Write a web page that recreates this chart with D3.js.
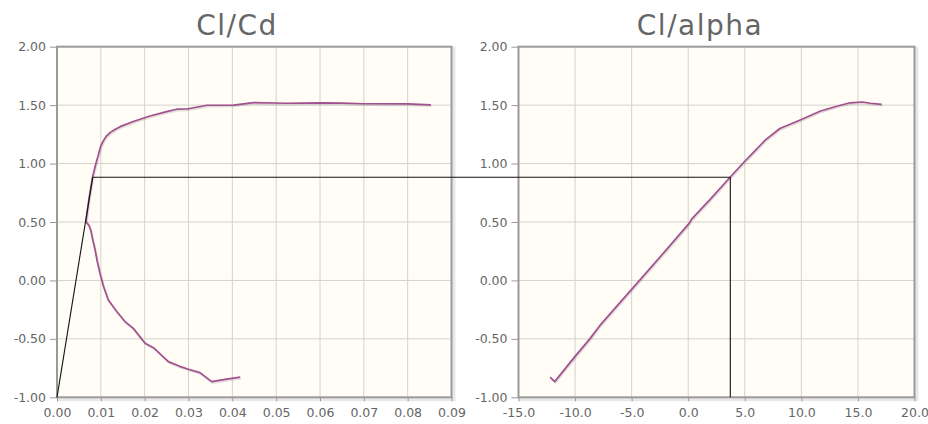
<!DOCTYPE html>
<html>
<head>
<meta charset="utf-8">
<script src="https://cdn.jsdelivr.net/npm/d3@7"></script>
<style>
  body { margin: 0; background: #fff; }
  svg { display: block; }
  .tick text { fill: #666; font-family: "DejaVu Sans", Verdana, sans-serif; font-size: 12.5px; }
  .tick line { stroke: #999; }
  .title { fill: #666; font-family: "DejaVu Sans", sans-serif; font-size: 28px; letter-spacing: 1.5px; }
</style>
</head>
<body>
<svg id="chart" width="928" height="424"></svg>
<script>
// Cl/Cd polar (drag coefficient, lift coefficient)
const polarCd = [0.0418, 0.0387, 0.0353, 0.0326, 0.0300, 0.0280, 0.0254, 0.0220, 0.0201, 0.0174,
  0.0155, 0.0135, 0.0117, 0.0106, 0.0098, 0.0092, 0.0087, 0.0082, 0.0077, 0.0073, 0.0066,
  0.0073, 0.0081, 0.0088, 0.0094, 0.0099, 0.0105, 0.0112, 0.0121, 0.0132, 0.0144, 0.0174, 0.0212,
  0.0250, 0.0273, 0.0296, 0.0342, 0.0403, 0.0448, 0.0524, 0.0600, 0.0650, 0.0700, 0.0800, 0.0853];
const polarCl = [-0.828, -0.845, -0.866, -0.789, -0.760, -0.735, -0.695, -0.575, -0.537, -0.410,
  -0.352, -0.260, -0.167, -0.050, 0.060, 0.160, 0.260, 0.340, 0.430, 0.470, 0.503,
  0.700, 0.883, 0.990, 1.070, 1.140, 1.190, 1.232, 1.265, 1.292, 1.316, 1.360, 1.407,
  1.445, 1.465, 1.467, 1.499, 1.500, 1.521, 1.516, 1.520, 1.518, 1.512, 1.510, 1.503];

// Cl/alpha (angle of attack in degrees, lift coefficient)
const alphaDeg = [-12.2, -11.8, -10.0, -8.7, -7.8, -5.9, -4.3, -2.0, 0.1, 0.3, 2.0, 3.7,
  5.0, 6.0, 6.8, 8.1, 9.9, 11.7, 13.2, 14.3, 15.4, 16.1, 17.1];
const alphaCl = [-0.828, -0.866, -0.650, -0.500, -0.385, -0.175, 0.000, 0.255, 0.490, 0.525, 0.700, 0.883,
  1.020, 1.120, 1.200, 1.300, 1.373, 1.450, 1.493, 1.520, 1.527, 1.516, 1.507];

// tangent construction: start point on the polar and the tangent point
const tangentStart = [0.0, -1.0];      // [Cd, Cl]
const tangentPoint = [0.00815, 0.883, 3.72]; // [Cd, Cl, alpha]

const cdTicks = [0, 0.01, 0.02, 0.03, 0.04, 0.05, 0.06, 0.07, 0.08, 0.09];
const alphaTicks = [-15, -10, -5, 0, 5, 10, 15, 20];
const clTicks = [-1, -0.5, 0, 0.5, 1, 1.5, 2];

const svg = d3.select('#chart');

const y = d3.scaleLinear().domain([-1, 2]).range([397.3, 46.7]);
const xLeft = d3.scaleLinear().domain([0, 0.09]).range([57, 451.5]);
const xRight = d3.scaleLinear().domain([-15, 20]).range([518.5, 914.5]);

// plain hyphen for negatives, like the original
const fmt = n => d => d.toFixed(n);

function drawPlot(x, xTicks, xFormat, xs, ys, title, titleX) {
	const [x0, x1] = x.range();
	const [y1, y0] = y.range();
	const g = svg.append('g');

	// shadow + background
	g.append('rect')
		.attr('x', x0 + 2).attr('y', y0 + 2)
		.attr('width', x1 - x0).attr('height', y1 - y0)
		.attr('fill', 'none')
		.attr('stroke', 'rgba(0,0,0,0.09)')
		.attr('stroke-width', 4);
	g.append('rect')
		.attr('x', x0).attr('y', y0)
		.attr('width', x1 - x0).attr('height', y1 - y0)
		.attr('fill', '#fffdf6');

	// grid
	g.selectAll('line.vgrid')
		.data(xTicks.slice(1, -1))
		.enter().append('line')
		.attr('class', 'vgrid')
		.attr('x1', d => x(d)).attr('x2', d => x(d))
		.attr('y1', y0).attr('y2', y1)
		.attr('stroke', '#d4d2cc').attr('stroke-width', 1);
	g.selectAll('line.hgrid')
		.data(clTicks.slice(1, -1))
		.enter().append('line')
		.attr('class', 'hgrid')
		.attr('x1', x0).attr('x2', x1)
		.attr('y1', d => y(d)).attr('y2', d => y(d))
		.attr('stroke', '#d4d2cc').attr('stroke-width', 1);

	// axes
	const yAxis = g.append('g')
		.attr('transform', `translate(${x0},0)`)
		.call(d3.axisLeft(y).tickValues(clTicks).tickFormat(fmt(2)).tickSize(7).tickPadding(4));
	yAxis.select('.domain').remove();
	const xAxis = g.append('g')
		.attr('transform', `translate(0,${y1})`)
		.call(d3.axisBottom(x).tickValues(xTicks).tickFormat(xFormat).tickSize(4).tickPadding(7));
	xAxis.select('.domain').remove();

	// series with a faint shadow
	const line = d3.line().x(d => x(d[0])).y(d => y(d[1]));
	const pts = xs.map((v, i) => [v, ys[i]]);
	g.append('path')
		.datum(pts)
		.attr('d', line)
		.attr('transform', 'translate(0.8,1.2)')
		.attr('fill', 'none')
		.attr('stroke', 'rgba(0,0,0,0.12)')
		.attr('stroke-width', 2);
	g.append('path')
		.datum(pts)
		.attr('d', line)
		.attr('fill', 'none')
		.attr('stroke', '#a3508f')
		.attr('stroke-width', 1.7)
		.attr('stroke-linejoin', 'round');

	// border
	g.append('rect')
		.attr('x', x0).attr('y', y0)
		.attr('width', x1 - x0).attr('height', y1 - y0)
		.attr('fill', 'none')
		.attr('stroke', '#9a9a9a')
		.attr('stroke-width', 2);

	svg.append('text')
		.attr('class', 'title')
		.attr('x', titleX).attr('y', 35)
		.attr('text-anchor', 'middle')
		.text(title);
}

drawPlot(xLeft, cdTicks, fmt(2), polarCd, polarCl, 'Cl/Cd', 237);
drawPlot(xRight, alphaTicks, fmt(1), alphaDeg, alphaCl, 'Cl/alpha', 700);

// tangent line and the link to the Cl/alpha chart
const overlay = svg.append('g')
	.attr('fill', 'none')
	.attr('stroke', '#111')
	.attr('stroke-width', 1.1);
overlay.append('line')
	.attr('x1', xLeft(tangentStart[0])).attr('y1', y(tangentStart[1]))
	.attr('x2', xLeft(tangentPoint[0])).attr('y2', y(tangentPoint[1]));
overlay.append('line')
	.attr('x1', xLeft(tangentPoint[0])).attr('y1', y(tangentPoint[1]))
	.attr('x2', xRight(tangentPoint[2])).attr('y2', y(tangentPoint[1]));
overlay.append('line')
	.attr('x1', xRight(tangentPoint[2])).attr('y1', y(tangentPoint[1]))
	.attr('x2', xRight(tangentPoint[2])).attr('y2', y(-1));
</script>
</body>
</html>
